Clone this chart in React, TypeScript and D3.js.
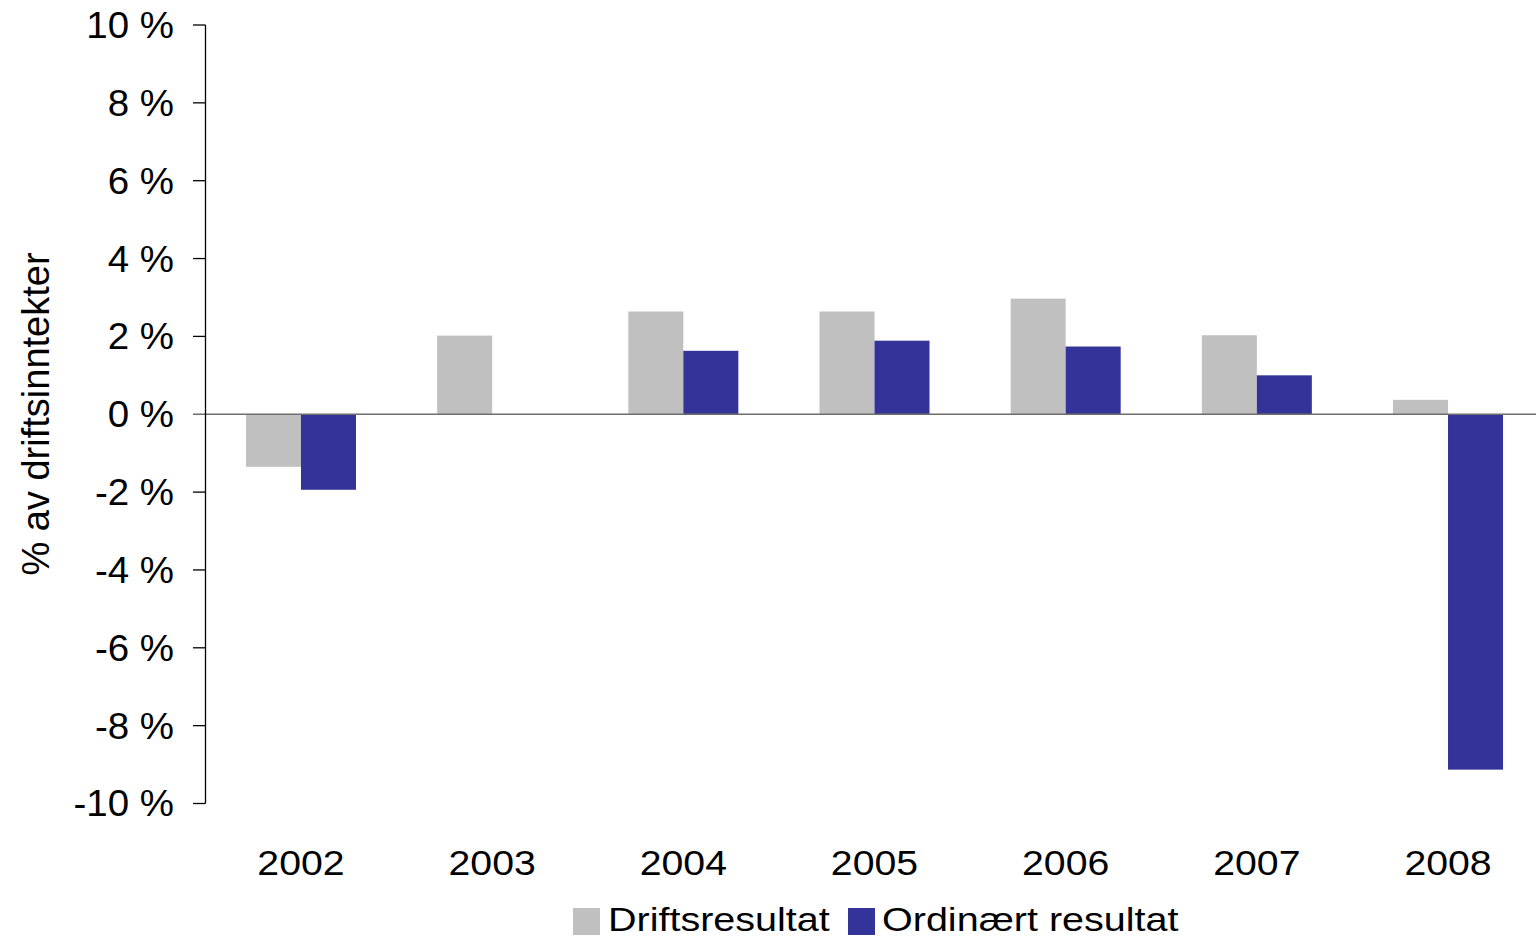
import React from "react";
import * as d3 from "d3";

const years = ["2002", "2003", "2004", "2005", "2006", "2007", "2008"];
const driftsresultat = [-1.35, 2.02, 2.64, 2.64, 2.97, 2.03, 0.37];
const ordinaertResultat = [-1.94, 0, 1.63, 1.89, 1.74, 1.0, -9.13];
const yTicks = [10, 8, 6, 4, 2, 0, -2, -4, -6, -8, -10];
const seriesNames = ["Driftsresultat", "Ordinært resultat"];
const seriesColors = ["#c0c0c0", "#333399"];

const W = 1536;
const H = 938;
const font = "'Liberation Sans', Arial, sans-serif";

export default function App() {
  const x = d3.scaleBand<string>().domain(years).range([205.4, 1543.6]).paddingInner(0).paddingOuter(0);
  const y = d3.scaleLinear().domain([-10, 10]).range([803.5, 25]);
  const barW = 55;
  const series = [driftsresultat, ordinaertResultat];

  return (
    <svg width={W} height={H} style={{ position: "absolute", left: 0, top: 0, background: "#fff" }}>
      {series.map((vals, si) =>
        vals.map((v, i) => {
          const cx = (x(years[i]) as number) + x.bandwidth() / 2;
          const x0 = cx - barW + si * barW;
          const y0 = y(Math.max(0, v));
          const h = Math.abs(y(v) - y(0));
          return h > 0 ? (
            <rect key={`${si}-${i}`} x={x0} y={y0} width={barW} height={h} fill={seriesColors[si]} />
          ) : null;
        })
      )}
      {/* zero line */}
      <line x1={193} x2={W} y1={y(0)} y2={y(0)} stroke="#6e6e6e" strokeWidth={1.5} />
      {/* y axis */}
      <line x1={205.5} x2={205.5} y1={y(10)} y2={y(-10)} stroke="#000" strokeWidth={1.3} />
      {yTicks.map((t) => (
        <g key={t}>
          {t !== 0 && <line x1={193} x2={205.5} y1={y(t)} y2={y(t)} stroke="#000" strokeWidth={1.3} />}
          <g transform={`translate(174, ${y(t)}) scale(1.04, 1)`}>
            <text x={0} y={0} dy="0.35em" textAnchor="end" fontFamily={font} fontSize={37} fill="#000">
              {`${t} %`}
            </text>
          </g>
        </g>
      ))}
      {years.map((yr) => (
        <g key={yr} transform={`translate(${(x(yr) as number) + x.bandwidth() / 2}, 875) scale(1.09, 1)`}>
          <text x={0} y={0} textAnchor="middle" fontFamily={font} fontSize={36} fill="#000">
            {yr}
          </text>
        </g>
      ))}
      <text
        transform={`translate(49, 414) rotate(-90)`}
        textAnchor="middle"
        fontFamily={font}
        fontSize={38}
        fill="#000"
      >
        % av driftsinntekter
      </text>
      {/* legend */}
      <rect x={573} y={908} width={27} height={27} fill={seriesColors[0]} />
      <g transform="translate(608, 930.5) scale(1.18, 1)">
        <text x={0} y={0} fontFamily={font} fontSize={33.5} fill="#000">
          {seriesNames[0]}
        </text>
      </g>
      <rect x={848} y={908} width={27} height={27} fill={seriesColors[1]} />
      <g transform="translate(882, 930.5) scale(1.18, 1)">
        <text x={0} y={0} fontFamily={font} fontSize={33.5} fill="#000">
          {seriesNames[1]}
        </text>
      </g>
    </svg>
  );
}
